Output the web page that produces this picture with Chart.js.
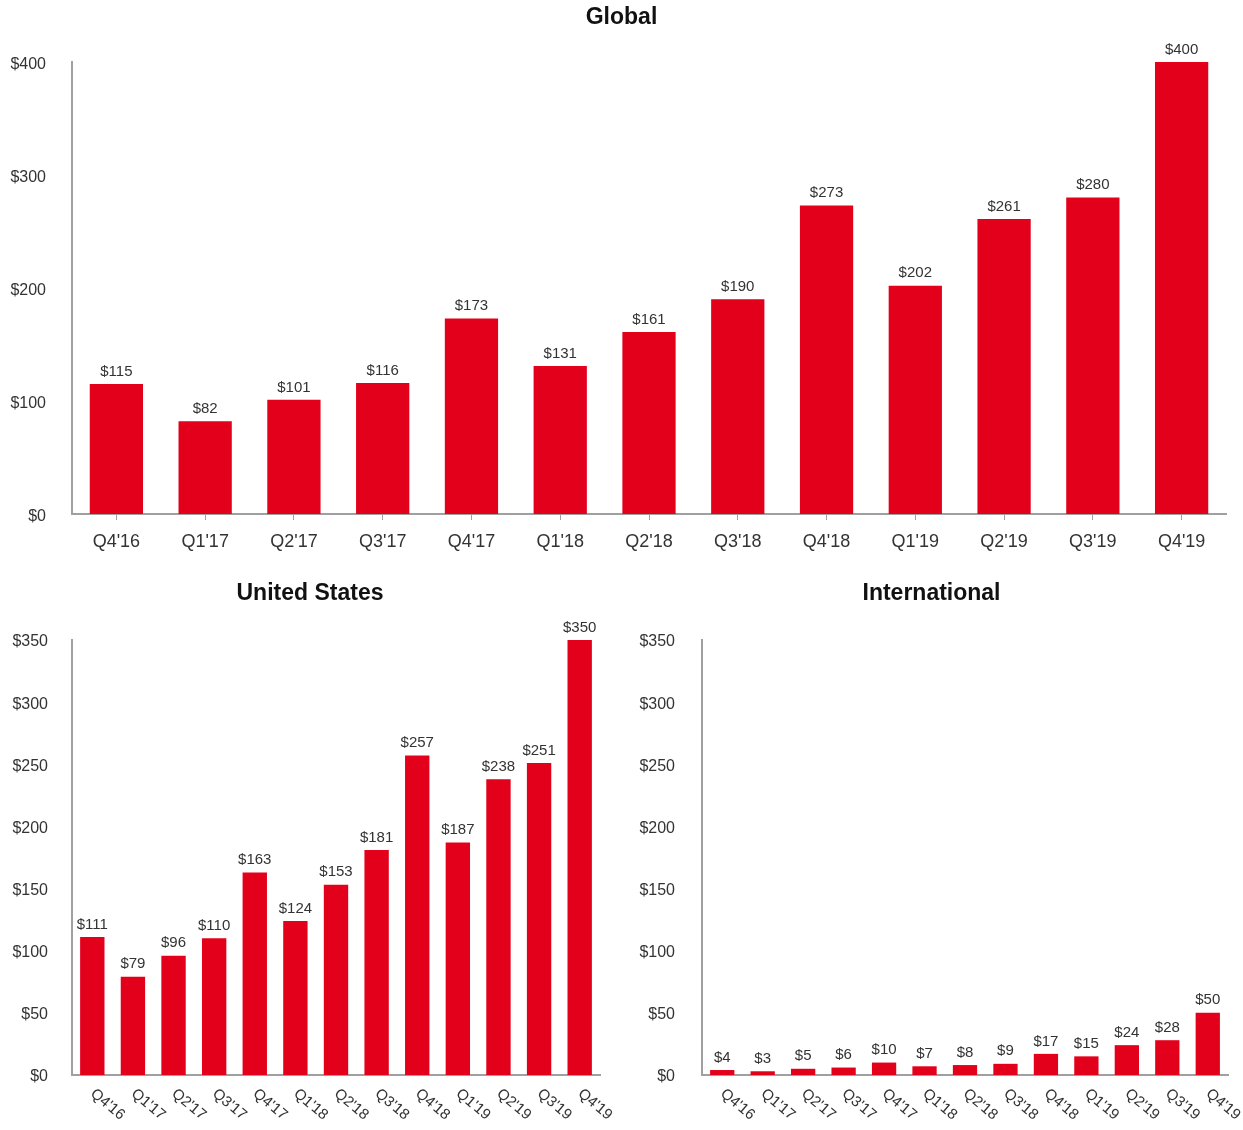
<!DOCTYPE html>
<html>
<head>
<meta charset="utf-8">
<script src="https://cdn.jsdelivr.net/npm/chart.js@4.4.0/dist/chart.umd.min.js"></script>
<style>
  body { margin: 0; background: #fff; }
  .box { position: absolute; }
</style>
</head>
<body>
<div class="box" style="left:0;top:0;width:1243px;height:565px"><canvas id="global"></canvas></div>
<div class="box" style="left:0;top:570px;width:620px;height:560px"><canvas id="us"></canvas></div>
<div class="box" style="left:620px;top:570px;width:623px;height:560px"><canvas id="intl"></canvas></div>
<script>
const quarters = ["Q4'16", "Q1'17", "Q2'17", "Q3'17", "Q4'17", "Q1'18", "Q2'18", "Q3'18", "Q4'18", "Q1'19", "Q2'19", "Q3'19", "Q4'19"];
const globalValues = [115, 82, 101, 116, 173, 131, 161, 190, 273, 202, 261, 280, 400];
const usValues = [111, 79, 96, 110, 163, 124, 153, 181, 257, 187, 238, 251, 350];
const intlValues = [4, 3, 5, 6, 10, 7, 8, 9, 17, 15, 24, 28, 50];

const RED = "#e3001b";
const AXIS = "#a0a0a0";
const TEXT = "#333";
const FONT = "'Liberation Sans', Arial, sans-serif";

// heading centred over the whole canvas
const heading = {
  id: "heading",
  afterDraw(chart, args, opts) {
    const ctx = chart.ctx;
    ctx.save();
    ctx.font = "bold 23px " + FONT;
    ctx.fillStyle = "#111";
    ctx.textAlign = "center";
    ctx.textBaseline = "middle";
    ctx.fillText(opts.text, chart.width / 2, opts.y);
    ctx.restore();
  }
};

// "$x" labels on top of every bar
const valueLabels = {
  id: "valueLabels",
  afterDatasetsDraw(chart) {
    const ctx = chart.ctx;
    const meta = chart.getDatasetMeta(0);
    const data = chart.data.datasets[0].data;
    ctx.save();
    ctx.font = "15px " + FONT;
    ctx.fillStyle = TEXT;
    ctx.textAlign = "center";
    ctx.textBaseline = "bottom";
    meta.data.forEach((bar, i) => {
      ctx.fillText("$" + data[i], bar.x, bar.y - 5);
    });
    ctx.restore();
  }
};

// slanted category labels for the small charts
const slantLabels = {
  id: "slantLabels",
  afterDraw(chart, args, opts) {
    if (!opts.on) return;
    const ctx = chart.ctx;
    const x = chart.scales.x;
    ctx.save();
    ctx.font = "15px " + FONT;
    ctx.fillStyle = TEXT;
    ctx.textAlign = "left";
    ctx.textBaseline = "top";
    chart.data.labels.forEach((lab, i) => {
      ctx.save();
      ctx.translate(x.getPixelForValue(i) + 5, x.top + 11);
      ctx.rotate(40 * Math.PI / 180);
      ctx.fillText(lab, 0, 0);
      ctx.restore();
    });
    ctx.restore();
  }
};

function makeChart(el, cfg) {
  return new Chart(el, {
    type: "bar",
    data: {
      labels: quarters,
      datasets: [{
        data: cfg.values,
        backgroundColor: RED,
        barPercentage: 0.6,
        categoryPercentage: 1
      }]
    },
    options: {
      responsive: true,
      maintainAspectRatio: false,
      animation: false,
      layout: { padding: { left: cfg.padLeft, right: cfg.padRight, top: cfg.padTop, bottom: 0 } },
      plugins: {
        legend: { display: false },
        tooltip: { enabled: false },
        title: { display: false },
        heading: { text: cfg.title, y: cfg.titleY },
        slantLabels: { on: cfg.slant }
      },
      scales: {
        x: {
          grid: {
            display: !cfg.slant,
            drawOnChartArea: false,
            drawTicks: true,
            tickLength: 6,
            offset: false,
            color: AXIS
          },
          border: { display: true, color: AXIS, width: 2 },
          ticks: {
            display: !cfg.slant,
            color: TEXT,
            padding: 11,
            maxRotation: 0,
            font: { family: FONT, size: 18 }
          },
          afterFit(s) { s.height = cfg.xHeight; }
        },
        y: {
          min: 0,
          max: cfg.max,
          grid: { display: false },
          border: { display: true, color: AXIS, width: 2 },
          ticks: {
            stepSize: cfg.step,
            color: TEXT,
            padding: cfg.yPad,
            labelOffset: cfg.yShift,
            font: { family: FONT, size: 16 },
            callback: v => "$" + v
          },
          afterFit(s) { s.width = cfg.yWidth; }
        }
      }
    },
    plugins: [valueLabels, slantLabels, heading]
  });
}

makeChart(document.getElementById("global"), {
  values: globalValues, title: "Global", titleY: 18, max: 400, step: 100,
  padTop: 62, padLeft: 0, padRight: 17, xHeight: 51, yWidth: 72, yPad: 18, yShift: 3,
  slant: false
});

makeChart(document.getElementById("us"), {
  values: usValues, title: "United States", titleY: 24, max: 350, step: 50,
  padTop: 70, padLeft: 2, padRight: 20, xHeight: 55, yWidth: 70, yPad: 16, yShift: 2,
  slant: true
});

makeChart(document.getElementById("intl"), {
  values: intlValues, title: "International", titleY: 24, max: 350, step: 50,
  padTop: 70, padLeft: 0, padRight: 15, xHeight: 55, yWidth: 82, yPad: 19, yShift: 2,
  slant: true
});
</script>
</body>
</html>
